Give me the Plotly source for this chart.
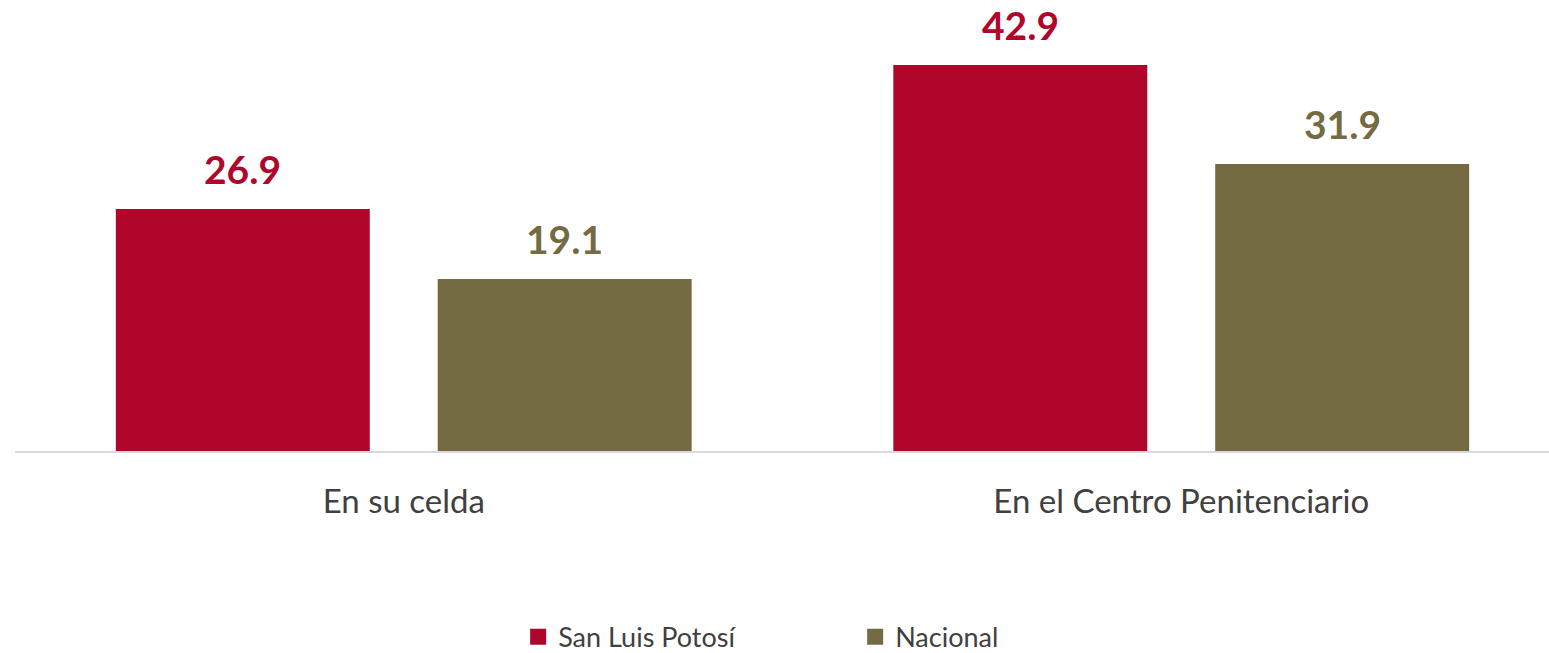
import plotly.graph_objects as go

categories = ["En su celda", "En el Centro Penitenciario"]
slp_values = [26.9, 42.9]
nacional_values = [19.1, 31.9]
series_names = ["San Luis Potosí", "Nacional"]

RED = "#B1062C"
OLIVE = "#756B43"
FONT = "Lato, 'Open Sans', sans-serif"

fig = go.Figure()
for name, vals, color in [(series_names[0], slp_values, RED),
                          (series_names[1], nacional_values, OLIVE)]:
    fig.add_trace(go.Bar(name=name, x=categories, y=vals, legendgroup=name,
                         showlegend=False, marker=dict(color=color, line=dict(width=0))))
    # legend key drawn as a square marker
    fig.add_trace(go.Scatter(name=name, x=[None], y=[None], mode="markers",
                             legendgroup=name, showlegend=True,
                             marker=dict(symbol="square", size=17, color=color)))

# value labels above each bar (offset left/right to each bar in the group)
for vals, color, shift in [(slp_values, RED, -161), (nacional_values, OLIVE, 161)]:
    for cat, v in zip(categories, vals):
        fig.add_annotation(x=cat, y=v, xref="x", yref="y", text=f"<b>{v:.1f}</b>",
                           showarrow=False, xshift=shift, yanchor="bottom", yshift=15,
                           font=dict(family=FONT, size=39, color=color))

fig.update_layout(
    width=1549, height=653,
    margin=dict(l=15, r=0, t=10, b=202, autoexpand=False),
    paper_bgcolor="white", plot_bgcolor="white",
    barmode="group", bargap=0.172, bargroupgap=0.211,
    font=dict(family=FONT, color="#404040"),
    showlegend=True,
    legend=dict(orientation="h", x=0.328, xanchor="left", y=-0.422, yanchor="middle",
                font=dict(family=FONT, size=27, color="#404040"),
                entrywidth=292, itemclick=False, itemdoubleclick=False),
    xaxis=dict(range=[-0.5, 1.473], showgrid=False, showline=True, linecolor="#D9D9D9",
               linewidth=2, ticks="", ticklabelstandoff=20,
               tickfont=dict(family=FONT, size=33, color="#404040")),
    yaxis=dict(range=[0, 49.0], visible=False, showgrid=False, zeroline=False),
)

fig.write_html("out.html")
